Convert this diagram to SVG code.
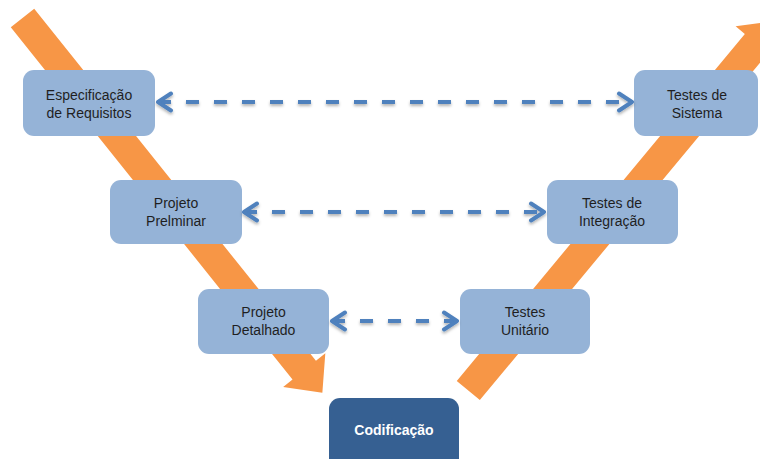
<svg xmlns="http://www.w3.org/2000/svg" width="760" height="459" viewBox="0 0 760 459">
  <style>
    .flow { fill: #F79646; }
    .box { fill: #95B3D7; }
    .core { fill: #366092; }
    .label { font-family: "Liberation Sans", Arial, sans-serif; font-size: 14px; fill: #1F1F1F; text-anchor: middle; }
    .label-core { font-family: "Liberation Sans", Arial, sans-serif; font-size: 14px; font-weight: bold; fill: #FFFFFF; text-anchor: middle; }
    .link { stroke: #4F81BD; stroke-width: 4; fill: none; stroke-dasharray: 13 15; }
  </style>
  <defs>
    <!-- wide block arrow, drawn along +x, tip at x=480 -->
    <path id="bigArrow" d="M0,-15 L451,-15 L451,-27 L480,0 L451,27 L451,15 L0,15 Z"/>
    <marker id="chev" viewBox="-16 -11 18 22" refX="0" refY="0" markerWidth="18" markerHeight="22" markerUnits="userSpaceOnUse" orient="auto-start-reverse">
      <path d="M-13,-8.5 L0,0 L-13,8.5" fill="none" stroke="#4F81BD" stroke-width="4" stroke-linecap="round" stroke-linejoin="round"/>
    </marker>
    <filter id="shade" x="-5%" y="-50%" width="110%" height="200%">
      <feDropShadow dx="0" dy="2" stdDeviation="1.5" flood-color="#000000" flood-opacity="0.3"/>
    </filter>
  </defs>

  <!-- descending and ascending branches of the V -->
  <g id="flow-down">
    <use href="#bigArrow" class="flow" transform="translate(22.5,18) rotate(51.34)"/>
  </g>
  <g id="flow-up">
    <use href="#bigArrow" class="flow" transform="translate(468.3,390.5) rotate(-50.3)"/>
  </g>

  <!-- left side: specification / design -->
  <g id="especificacao">
    <rect class="box" x="23" y="70" width="132" height="66" rx="11"/>
    <text class="label" x="89" y="100">Especificação</text>
    <text class="label" x="89" y="118">de Requisitos</text>
  </g>
  <g id="projeto-preliminar">
    <rect class="box" x="110" y="180" width="132" height="64" rx="11"/>
    <text class="label" x="176" y="208">Projeto</text>
    <text class="label" x="176" y="226">Prelminar</text>
  </g>
  <g id="projeto-detalhado">
    <rect class="box" x="198" y="289" width="131" height="65" rx="11"/>
    <text class="label" x="263.5" y="317">Projeto</text>
    <text class="label" x="263.5" y="335">Detalhado</text>
  </g>

  <!-- right side: testing -->
  <g id="testes-sistema">
    <rect class="box" x="634" y="70" width="124" height="66" rx="11"/>
    <text class="label" x="697" y="100">Testes de</text>
    <text class="label" x="697" y="118">Sistema</text>
  </g>
  <g id="testes-integracao">
    <rect class="box" x="547" y="180" width="131" height="64" rx="11"/>
    <text class="label" x="612" y="208">Testes de</text>
    <text class="label" x="612" y="226">Integração</text>
  </g>
  <g id="testes-unitario">
    <rect class="box" x="460" y="289" width="130" height="65" rx="11"/>
    <text class="label" x="525" y="317">Testes</text>
    <text class="label" x="525" y="335">Unitário</text>
  </g>

  <!-- bottom of the V -->
  <g id="codificacao">
    <rect class="core" x="329" y="398" width="130" height="80" rx="11"/>
    <text class="label-core" x="394" y="435">Codificação</text>
  </g>

  <!-- two-way dashed links between matching levels -->
  <g id="connectors" filter="url(#shade)">
    <line class="link" x1="158" y1="102" x2="632" y2="102" marker-start="url(#chev)" marker-end="url(#chev)"/>
    <line class="link" x1="244" y1="212" x2="544" y2="212" marker-start="url(#chev)" marker-end="url(#chev)"/>
    <line class="link" x1="332" y1="321" x2="457" y2="321" marker-start="url(#chev)" marker-end="url(#chev)"/>
  </g>
</svg>
